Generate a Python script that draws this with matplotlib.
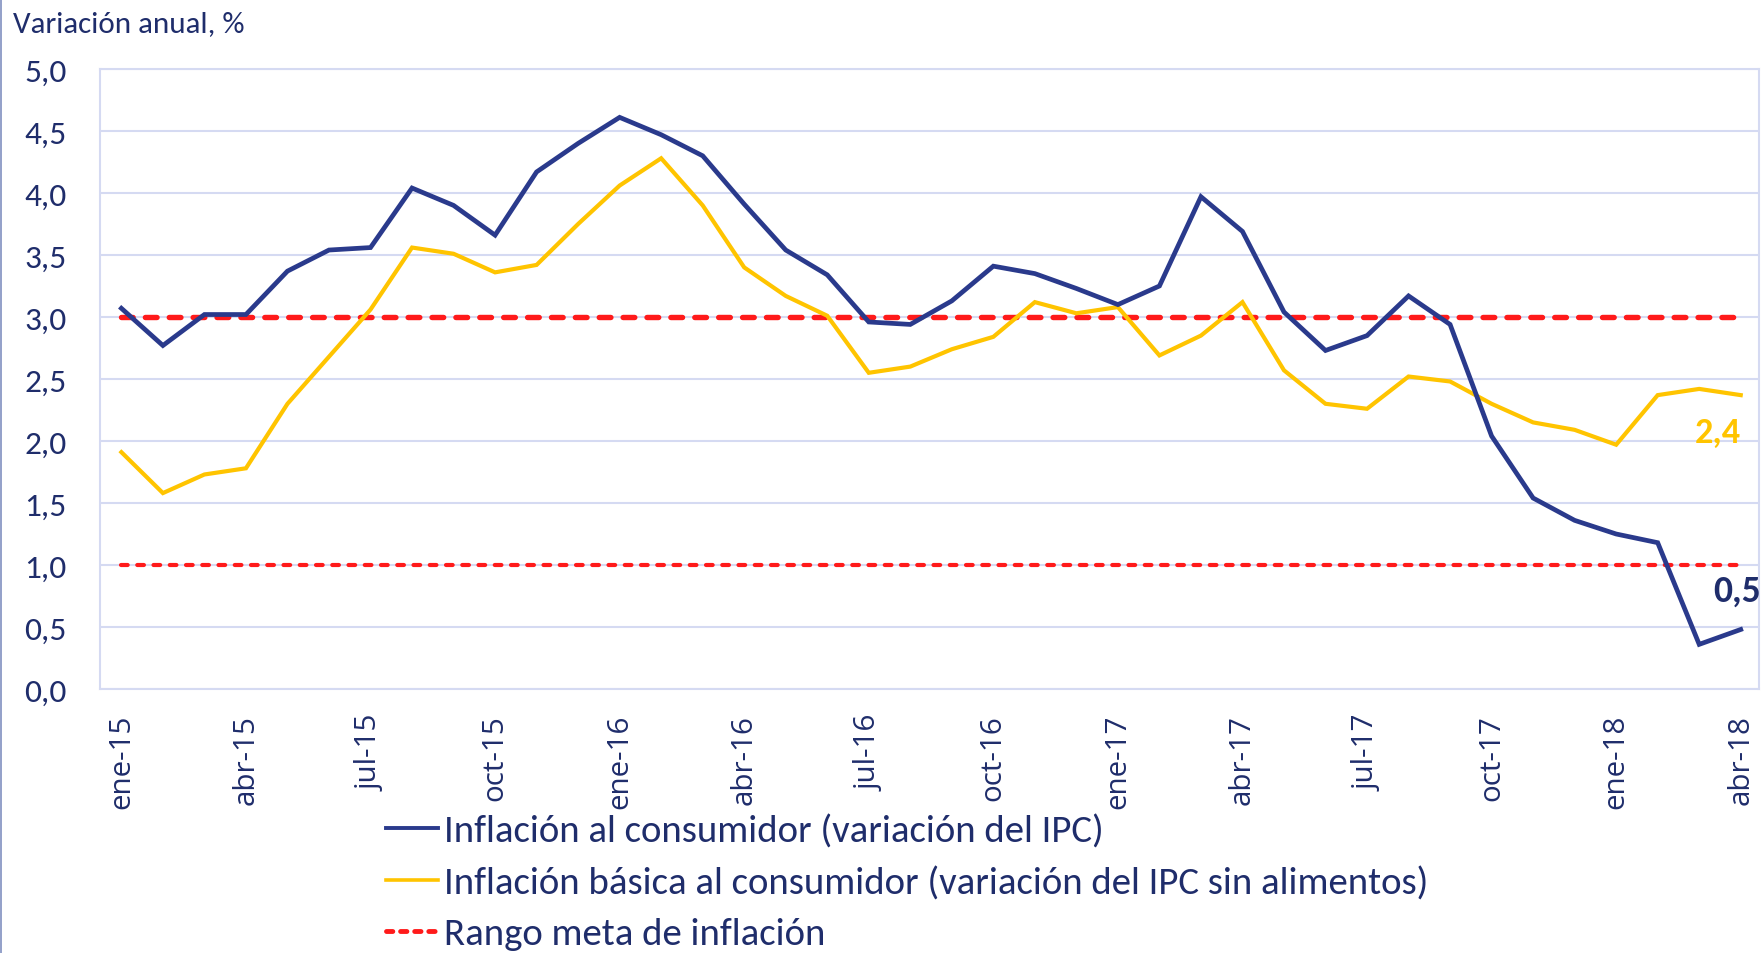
import matplotlib
matplotlib.use("Agg")
import matplotlib.pyplot as plt
from matplotlib.lines import Line2D
import numpy as np
import logging
logging.getLogger("matplotlib.font_manager").setLevel(logging.ERROR)

# ---------------- data ----------------
meses = ["ene-15", "feb-15", "mar-15", "abr-15", "may-15", "jun-15", "jul-15", "ago-15",
         "sep-15", "oct-15", "nov-15", "dic-15", "ene-16", "feb-16", "mar-16", "abr-16",
         "may-16", "jun-16", "jul-16", "ago-16", "sep-16", "oct-16", "nov-16", "dic-16",
         "ene-17", "feb-17", "mar-17", "abr-17", "may-17", "jun-17", "jul-17", "ago-17",
         "sep-17", "oct-17", "nov-17", "dic-17", "ene-18", "feb-18", "mar-18", "abr-18"]

ipc = [3.07, 2.77, 3.02, 3.02, 3.37, 3.54, 3.56, 4.04, 3.90, 3.66, 4.17, 4.40,
       4.61, 4.47, 4.30, 3.91, 3.54, 3.34, 2.96, 2.94, 3.13, 3.41, 3.35, 3.23,
       3.10, 3.25, 3.97, 3.69, 3.04, 2.73, 2.85, 3.17, 2.94, 2.04, 1.54, 1.36,
       1.25, 1.18, 0.36, 0.48]

ipc_sin_alim = [1.91, 1.58, 1.73, 1.78, 2.30, 2.68, 3.06, 3.56, 3.51, 3.36, 3.42, 3.75,
                4.06, 4.28, 3.90, 3.40, 3.17, 3.01, 2.55, 2.60, 2.74, 2.84, 3.12, 3.03,
                3.08, 2.69, 2.85, 3.12, 2.57, 2.30, 2.26, 2.52, 2.48, 2.30, 2.15, 2.09,
                1.97, 2.37, 2.42, 2.37]

meta_superior = 3.0
meta_inferior = 1.0

etiquetas = ["Inflación al consumidor (variación del IPC)",
             "Inflación básica al consumidor (variación del IPC sin alimentos)",
             "Rango meta de inflación"]

# ---------------- style ----------------
W, H = 1763, 954
NAVY_TXT = "#1F2D6B"
BLUE = "#2A3A8C"
YELLOW = "#FFC400"
RED = "#FF1A1A"
GRID = "#D5DAF2"
CAL = ["Carlito", "Lato", "DejaVu Sans"]
TICKF = ["Open Sans", "DejaVu Sans"]

fig = plt.figure(figsize=(W / 100, H / 100), dpi=100)
ax = fig.add_axes([100 / W, 1 - 690 / H, (1759 - 100) / W, (690 - 70) / H])

x = np.arange(len(meses))
ax.plot(x, np.full(len(x), meta_inferior), color=RED, lw=3.0,
        linestyle=(0, (1.6, 2.3)), dash_capstyle="round", zorder=3)
ax.plot(x, np.full(len(x), meta_superior), color=RED, lw=3.9,
        linestyle=(0, (2.15, 2.26)), dash_capstyle="round", zorder=3)
ax.plot(x, ipc_sin_alim, color=YELLOW, lw=3.0, solid_joinstyle="miter", zorder=4)
ax.plot(x, ipc, color=BLUE, lw=3.4, solid_joinstyle="miter", zorder=5)

ax.set_xlim(-0.515, 39.44)
ax.set_ylim(0, 5)
yt = np.arange(0, 5.01, 0.5)
ax.set_yticks(yt)
ax.set_yticklabels([f"{v:.1f}".replace(".", ",") for v in yt],
                   family=CAL, fontsize=24, color=NAVY_TXT)
ax.set_xticks(x[::3])
ax.set_xticklabels(meses[::3], rotation=90, family=TICKF, fontsize=21.3,
                   color=NAVY_TXT, ha="center", va="top")
ax.tick_params(axis="both", length=0)
ax.tick_params(axis="y", pad=24)
ax.tick_params(axis="x", pad=18)
ax.grid(axis="y", color=GRID, lw=1.5, zorder=0)
ax.set_axisbelow(True)
for s in ax.spines.values():
    s.set_color(GRID)
    s.set_linewidth(1.5)

# axis title
fig.text(13 / W, 1 - 24 / H, "Variación anual, %", family=CAL, fontsize=22.3,
         color=NAVY_TXT, ha="left", va="center")

# end labels
ax.annotate(f"{ipc_sin_alim[-1]:.1f}".replace(".", ","), xy=(x[-1], ipc_sin_alim[-1]),
            xytext=(-16.3, -26.6), textcoords="offset points", ha="center", va="center",
            family=CAL, fontsize=26, fontweight="bold", color=YELLOW,
            annotation_clip=False)
ax.annotate(f"{ipc[-1]:.1f}".replace(".", ","), xy=(x[-1], ipc[-1]),
            xytext=(-19.9, 28.4), textcoords="offset points", ha="left", va="center",
            family=CAL, fontsize=27, fontweight="bold", color=NAVY_TXT,
            annotation_clip=False)

# legend
handles = [Line2D([], [], color=BLUE, lw=2.8),
           Line2D([], [], color=YELLOW, lw=2.6),
           Line2D([], [], color=RED, lw=3.5, linestyle=(0, (1.3, 1.6)), dash_capstyle="round")]
leg = fig.legend(handles, etiquetas, loc="center left",
                 bbox_to_anchor=(386 / W, 1 - 883 / H), frameon=False,
                 prop={"family": CAL, "size": 28}, handlelength=1.34,
                 handletextpad=0.15, labelspacing=0.45, borderpad=0, borderaxespad=0)
for t in leg.get_texts():
    t.set_color(NAVY_TXT)

# figure border on left
fig.add_artist(Line2D([1 / W, 1 / W], [0, 1], color="#8090C0", lw=1.2))

fig.savefig("out.png", dpi=100)
